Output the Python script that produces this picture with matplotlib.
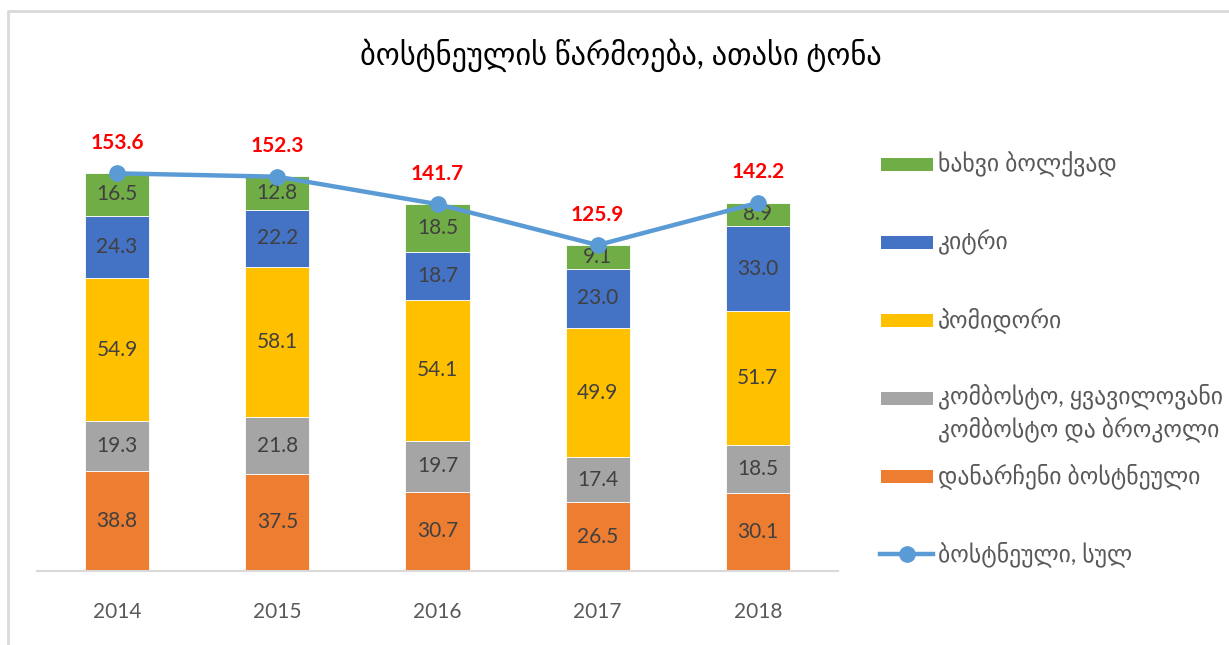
import matplotlib
matplotlib.use("Agg")
import matplotlib.pyplot as plt
from matplotlib.lines import Line2D
from matplotlib.patches import Rectangle

plt.rcParams['font.family'] = ['Lato', 'DejaVu Sans']

years = ['2014', '2015', '2016', '2017', '2018']
other_veg = [38.8, 37.5, 30.7, 26.5, 30.1]
cabbage = [19.3, 21.8, 19.7, 17.4, 18.5]
tomato = [54.9, 58.1, 54.1, 49.9, 51.7]
cucumber = [24.3, 22.2, 18.7, 23.0, 33.0]
onion = [16.5, 12.8, 18.5, 9.1, 8.9]
total = [153.6, 152.3, 141.7, 125.9, 142.2]

title = 'ბოსტნეულის წარმოება, ათასი ტონა'
series_names = ['დანარჩენი ბოსტნეული',
                'კომბოსტო, ყვავილოვანი\nკომბოსტო და ბროკოლი',
                'პომიდორი', 'კიტრი', 'ხახვი ბოლქვად']
total_name = 'ბოსტნეული, სულ'
colors = ['#ED7D31', '#A5A5A5', '#FFC000', '#4472C4', '#70AD47']
line_color = '#5B9BD5'

W, H = 1229, 645
fig = plt.figure(figsize=(W / 100, H / 100), dpi=100)

def fx(x):
    return x / W

def fy(y):
    return 1 - y / H

ax = fig.add_axes([fx(37), fy(571), (838 - 37) / W, 466 / H])
x = list(range(len(years)))
series = [other_veg, cabbage, tomato, cucumber, onion]
bottom = [0.0] * len(years)
for vals, col in zip(series, colors):
    bars = ax.bar(x, vals, width=0.4, bottom=bottom, color=col,
                  edgecolor='white', linewidth=0.6, zorder=2)
    ax.bar_label(bars, labels=[f'{v:.1f}' for v in vals], label_type='center',
                 color='#404040', fontsize=15)
    bottom = [b + v for b, v in zip(bottom, vals)]

ax.plot(x, total, color=line_color, linewidth=3.2, marker='o', markersize=11,
        zorder=4, solid_capstyle='round')
for xi, t in zip(x, total):
    ax.annotate(f'{t:.1f}', (xi, t), xytext=(0, 22), textcoords='offset points',
                ha='center', va='center', color='#FF0000', fontsize=15,
                fontweight='bold')

ax.set_xlim(-0.5, 4.5)
ax.set_ylim(0, 180)
ax.set_xticks(x)
ax.set_xticklabels(years)
ax.tick_params(axis='x', length=0, pad=22, labelsize=15, labelcolor='#595959')
ax.set_yticks([])
for s in ['top', 'right', 'left']:
    ax.spines[s].set_visible(False)
ax.spines['bottom'].set_color('#D9D9D9')
ax.spines['bottom'].set_linewidth(1.5)

fig.text(fx(621), fy(55), title, ha='center', va='center', fontsize=22,
         color='black')

# legend (manual)
legend_y = [164, 242, 320, 398, 476]
legend_order = [4, 3, 2, 1, 0]
for yy, idx in zip(legend_y, legend_order):
    fig.patches.append(Rectangle((fx(881), fy(yy + 6.5)), 52 / W, 13 / H,
                                 transform=fig.transFigure,
                                 facecolor=colors[idx], edgecolor='none'))
    if '\n' in series_names[idx]:
        fig.text(fx(938), fy(yy - 15), series_names[idx], ha='left', va='top',
                 fontsize=17, color='#595959', linespacing=1.4)
    else:
        fig.text(fx(938), fy(yy), series_names[idx], ha='left', va='center',
                 fontsize=17, color='#595959')
fig.lines.append(Line2D([fx(880), fx(933)], [fy(554), fy(554)],
                        transform=fig.transFigure, color=line_color, linewidth=3.2))
fig.lines.append(Line2D([fx(906.5)], [fy(554)], transform=fig.transFigure,
                        color=line_color, marker='o', markersize=11, linestyle='none'))
fig.text(fx(938), fy(554), total_name, ha='left', va='center', fontsize=17,
         color='#595959')

# chart frame (top and left edges visible)
fig.lines.append(Line2D([fx(8), fx(8), fx(W)], [fy(H), fy(11), fy(11)],
                        transform=fig.transFigure, color='#D9D9D9', linewidth=2))

fig.savefig('out.png', dpi=100)
